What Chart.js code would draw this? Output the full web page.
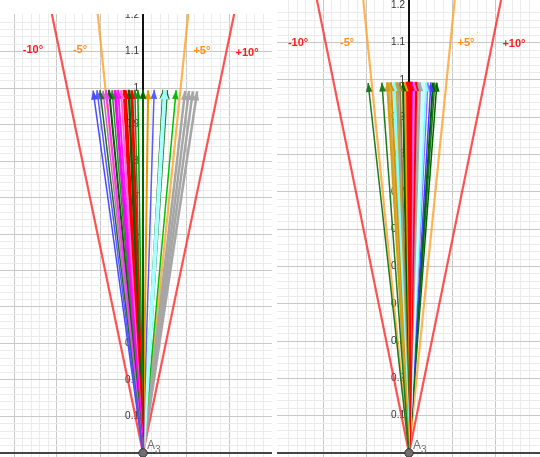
<!DOCTYPE html>
<html><head><meta charset="utf-8">
<script src="https://cdn.jsdelivr.net/npm/chart.js@4/dist/chart.umd.min.js"></script>
<style>
html,body{margin:0;padding:0;background:#fff;width:540px;height:457px;overflow:hidden}
canvas{position:absolute}
#c1{left:0;top:14px}
#c2{left:277px;top:0}
</style></head><body>
<canvas id="c1" width="272" height="443"></canvas>
<canvas id="c2" width="263" height="457"></canvas>
<script>
// ---- data ----
const leftTipX = [-0.116, -0.107, -0.100, -0.093, -0.086, -0.079, -0.072, -0.065, -0.058, -0.051, -0.044, -0.040, -0.033, -0.026, -0.019, -0.012, 0.000, 0.012, 0.026, 0.051, 0.047, 0.056, 0.077, 0.098, 0.107, 0.116, 0.126];
const leftTipY = [0.993, 0.994, 0.994, 0.993, 0.994, 0.995, 0.994, 0.994, 0.995, 0.994, 0.995, 0.994, 0.995, 0.994, 0.995, 0.995, 0.995, 0.994, 0.995, 0.994, 0.995, 0.994, 0.994, 0.992, 0.992, 0.991, 0.991];
const rightTipX = [-0.095, -0.063, -0.051, -0.047, -0.042, -0.035, -0.030, -0.026, -0.021, -0.014, -0.009, -0.005, 0.000, 0.004, 0.007, 0.012, 0.016, 0.021, 0.026, 0.033, 0.040, 0.044, 0.051, 0.056, 0.060, 0.065];
const rightTipY = [0.992, 0.993, 0.994, 0.994, 0.994, 0.994, 0.994, 0.994, 0.994, 0.994, 0.994, 0.995, 0.995, 0.995, 0.995, 0.995, 0.995, 0.994, 0.994, 0.994, 0.994, 0.994, 0.994, 0.993, 0.993, 0.993];
const refLabels = ['-10°', '-5°', '+5°', '+10°'];
const refEndX = [-0.2204, -0.1094, 0.1094, 0.2204];
const refEndY = 1.25;
const yTickValues = [0.1, 0.2, 0.3, 0.4, 0.5, 0.6, 0.7, 0.8, 0.9, 1, 1.1, 1.2];
const yTickLabels = ['0.1', '0.2', '0.3', '0.4', '0.5', '0.6', '0.7', '0.8', '0.9', '1', '1.1', '1.2'];
const pointName = 'A';
const pointSub = '3';

// ---- styles ----
const leftColors = ['#4b4bff','#5a5aff','#1f6f1f','#cc66cc','#ff33ff','#006400','#2e8b2e','#ff00ff','#ff1aff','#ff66cc','#ff0000','#e60000','#006400','#ff0000','#228b22','#00a000','#006400','#e69a00','#5b5bff','#a8ffff','#006400','#1f6f1f','#00c000','#a6a6a6','#a6a6a6','#a6a6a6','#a6a6a6'];
const leftWidths = [1.5,1.5,1.5,1.5,2,2,1.5,3,2,2,3,2,2.5,3,1.5,1.5,2,2,1.5,4,2,2,1.5,2.5,2.5,2.5,2.5];
const rightColors = ['#1e7b1e','#1e7b1e','#d4a017','#e8a33a','#c8960c','#7fffff','#d4a017','#a0a0a0','#9b7b3b','#006400','#ff9900','#ff0000','#ff0000','#ff0000','#ff00ff','#ff66cc','#ff0000','#a0a0a0','#a8a8a8','#c4ffff','#80ffff','#9966ff','#4040ff','#006400','#1e7b1e','#006400'];
const rightWidths = [1.5,1.5,2,2,2,3,2,2,2,2,2,3,4,3,2,2,3,2,2,3,2,1.5,1.5,2,1.5,1.5];
const refColors = ['rgba(255,40,40,0.8)','rgba(255,160,40,0.8)','rgba(255,160,40,0.8)','rgba(255,40,40,0.8)'];
const refTextColors = ['#ff1a1a','#ff8c1a','#ff8c1a','#ff1a1a'];

function isMult(v, s) { const q = v / s; return Math.abs(q - Math.round(q)) < 1e-6; }

const arrowHeads = {
  id: 'arrowHeads',
  afterDatasetDraw(chart, args) {
    const ds = chart.data.datasets[args.index];
    if (!ds.isArrow) return;
    const a = args.meta.data[0], b = args.meta.data[1];
    const ang = Math.atan2(b.y - a.y, b.x - a.x);
    const L = 9, W = ds.borderWidth > 3.5 ? 4.5 : 3.3;
    const c = chart.ctx;
    c.save();
    c.fillStyle = ds.borderColor;
    c.beginPath();
    c.moveTo(b.x, b.y);
    c.lineTo(b.x - L*Math.cos(ang) + W*Math.sin(ang), b.y - L*Math.sin(ang) - W*Math.cos(ang));
    c.lineTo(b.x - L*Math.cos(ang) - W*Math.sin(ang), b.y - L*Math.sin(ang) + W*Math.cos(ang));
    c.closePath();
    c.fill();
    c.restore();
  }
};

const textLayer = {
  id: 'textLayer',
  beforeDatasetsDraw(chart) {
    const xs = chart.scales.x, ys = chart.scales.y, c = chart.ctx, ca = chart.chartArea;
    const x0 = xs.getPixelForValue(0), y0 = ys.getPixelForValue(0);
    c.save();
    // axes
    c.lineWidth = 2;
    c.strokeStyle = '#444';
    c.beginPath(); c.moveTo(ca.left, y0); c.lineTo(ca.right, y0); c.stroke();
    c.strokeStyle = '#111';
    c.beginPath(); c.moveTo(x0, ca.top); c.lineTo(x0, y0); c.stroke();
    // tick labels
    c.font = '10px "Liberation Sans", Arial, sans-serif';
    c.fillStyle = '#333';
    c.textAlign = 'right';
    c.textBaseline = 'middle';
    yTickValues.forEach((v, i) => c.fillText(yTickLabels[i], x0 - 4, ys.getPixelForValue(v)));
    c.font = 'bold 11px "Liberation Sans", Arial, sans-serif';
    c.textAlign = 'center';
    const pos = chart.options.plugins.textLayer.labelAt;
    refLabels.forEach((t, i) => {
      c.fillStyle = refTextColors[i];
      c.fillText(t, xs.getPixelForValue(pos[i][0]), ys.getPixelForValue(pos[i][1]));
    });
    c.restore();
  },
  afterDatasetsDraw(chart) {
    const xs = chart.scales.x, ys = chart.scales.y, c = chart.ctx;
    const px = xs.getPixelForValue(0), py = ys.getPixelForValue(0);
    c.save();
    c.beginPath();
    c.arc(px, py, 4.2, 0, Math.PI * 2);
    c.fillStyle = '#707070';
    c.fill();
    c.lineWidth = 1;
    c.strokeStyle = '#333';
    c.stroke();
    c.fillStyle = '#707070';
    c.textAlign = 'left';
    c.textBaseline = 'alphabetic';
    c.font = '12px "Liberation Sans", Arial, sans-serif';
    c.fillText(pointName, px + 4, py - 4);
    c.font = '10px "Liberation Sans", Arial, sans-serif';
    c.fillText(pointSub, px + 12, py);
    c.restore();
  }
};

function buildChart(id, range, tipX, tipY, colors, widths, labelAt) {
  const datasets = [];
  tipX.forEach((x, i) => {
    datasets.push({
      isArrow: true,
      data: [{x: 0, y: 0}, {x: x, y: tipY[i]}],
      borderColor: colors[i],
      borderWidth: widths[i],
      order: i
    });
  });
  refEndX.forEach((x, i) => {
    datasets.push({
      data: [{x: 0, y: 0}, {x: x, y: refEndY}],
      borderColor: refColors[i],
      borderWidth: 2.2,
      order: 200 + i
    });
  });
  datasets.forEach(d => { d.showLine = true; d.pointRadius = 0; d.fill = false; d.tension = 0; });
  const gridColor = ctx => {
    const v = ctx.tick.value;
    if (!isMult(v, 0.02)) return 'rgba(0,0,0,0)';
    return isMult(v, 0.1) ? '#c8c8c8' : '#ebebeb';
  };
  return new Chart(document.getElementById(id), {
    type: 'scatter',
    data: { datasets },
    options: {
      responsive: false,
      animation: false,
      layout: { padding: 0 },
      plugins: { legend: { display: false }, tooltip: { enabled: false }, textLayer: { labelAt } },
      scales: {
        x: { type: 'linear', min: range[0], max: range[1],
             ticks: { display: false, stepSize: 0.02, maxTicksLimit: 1000 },
             grid: { drawTicks: false, color: gridColor, lineWidth: 1 },
             border: { display: false } },
        y: { type: 'linear', min: range[2], max: range[3],
             ticks: { display: false, stepSize: 0.02, maxTicksLimit: 1000 },
             grid: { drawTicks: false, color: gridColor, lineWidth: 1 },
             border: { display: false } }
      }
    },
    plugins: [arrowHeads, textLayer]
  });
}

buildChart('c1', [-143/430, 129/430, -4/365, 439/365], leftTipX, leftTipY, leftColors, leftWidths,
  [[-0.256, 1.104], [-0.1465, 1.104], [0.137, 1.101], [0.242, 1.096]]);
buildChart('c2', [-132/430, 131/430, -4/373, 453/373], rightTipX, rightTipY, rightColors, rightWidths,
  [[-0.258, 1.099], [-0.144, 1.099], [0.1326, 1.099], [0.244, 1.097]]);
</script>
</body></html>
